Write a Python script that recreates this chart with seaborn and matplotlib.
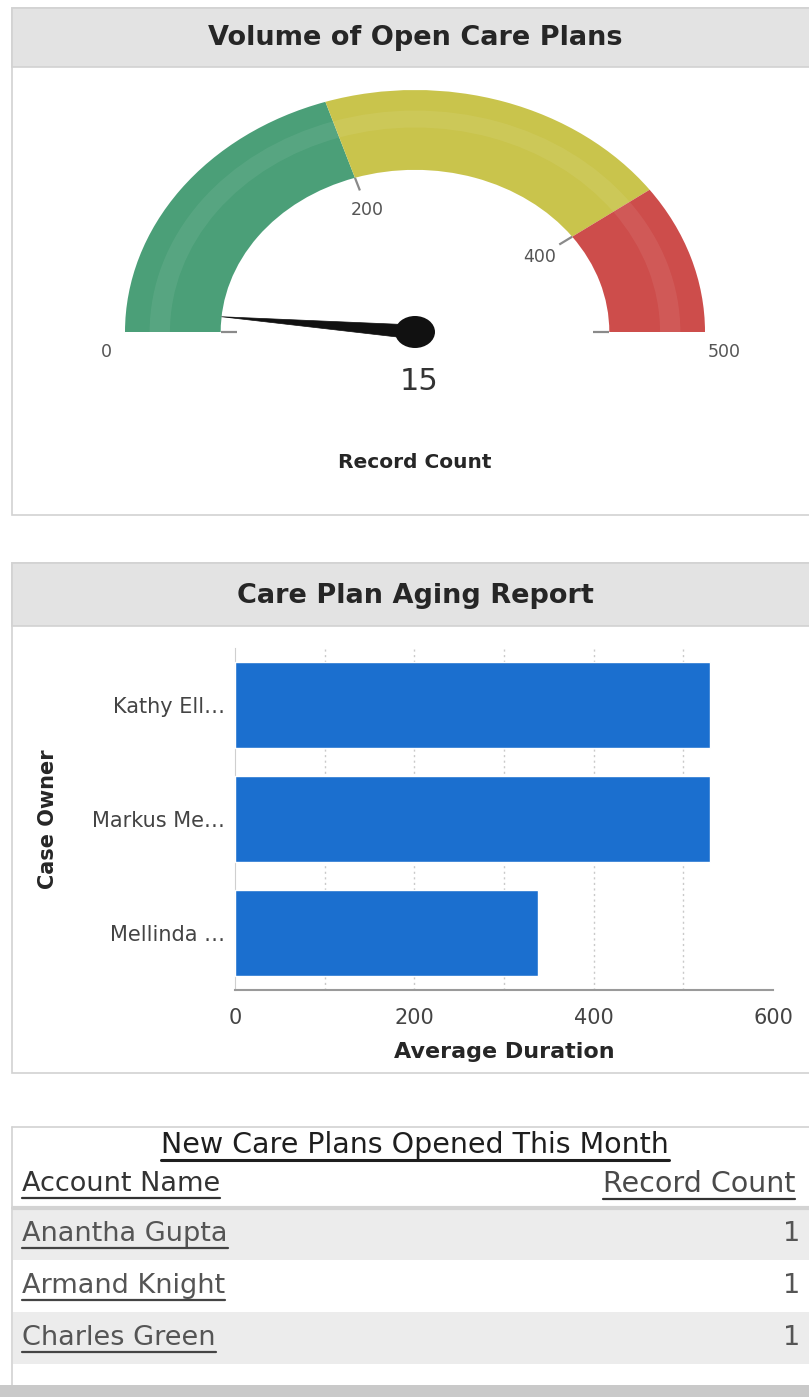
import matplotlib
matplotlib.use("Agg")
import numpy as np
import pandas as pd
import matplotlib.pyplot as plt
import seaborn as sns
from matplotlib.patches import Wedge, Ellipse, Polygon, Rectangle
from matplotlib.lines import Line2D
from matplotlib.ticker import FixedLocator

# ---- data ----
gauge_title = "Volume of Open Care Plans"
gauge_label = "Record Count"
gauge_value = 15
gauge_breaks = [0, 200, 400, 500]
gauge_colors = ["#4b9f78", "#c9c44c", "#cd4d4b"]

bar_title = "Care Plan Aging Report"
owners = ["Kathy Ell…", "Markus Me…", "Mellinda …"]
avg_duration = [530, 530, 338]
dur_ticks = [0, 200, 400, 600]
dur_grid = [100, 200, 300, 400, 500]

table_title = "New Care Plans Opened This Month"
table_cols = ["Account Name", "Record Count"]
accounts = ["Anantha Gupta", "Armand Knight", "Charles Green"]
record_counts = [1, 1, 1]

# ---- figure ----
sns.set_style("white")
plt.rcParams["font.family"] = ["DejaVu Sans"]

W, H = 809, 1397
fig = plt.figure(figsize=(W / 100, H / 100), dpi=100)


def px_axes(x0, y0, x1, y1):
    return fig.add_axes([x0 / W, 1 - y1 / H, (x1 - x0) / W, (y1 - y0) / H])


# background layer in pixel coords (y down)
bg = fig.add_axes([0, 0, 1, 1])
bg.set_xlim(0, W)
bg.set_ylim(H, 0)
bg.axis("off")

border = "#d2d2d2"
head = "#e3e3e3"
# panel 1 + panel 2 frames with grey header band
for top, bot, htop, hbot in [(8, 515, 8, 67), (563, 1073, 563, 626)]:
    bg.add_patch(Rectangle((12, top), W, bot - top, fc="white", ec=border, lw=1.2))
    bg.add_patch(Rectangle((12, htop), W, hbot - htop, fc=head, ec=border, lw=1.2))

bg.text(415, 38, gauge_title, ha="center", va="center", fontsize=19.5,
        fontweight="bold", color="#262626")
bg.text(415, 596, bar_title, ha="center", va="center", fontsize=19.5,
        fontweight="bold", color="#262626")

# ---- gauge ----
cx, cy, rx, ry = 415, 332, 290, 242
ax1 = px_axes(13, 68, W, 514)
ax1.set_xlim((13 - cx) / rx, (W - cx) / rx)
ax1.set_ylim((cy - 514) / ry, (cy - 68) / ry)
ax1.axis("off")

vmax = gauge_breaks[-1]
inner = 0.67


def ang(v):
    return 180 - v / vmax * 180


for lo, hi, col in zip(gauge_breaks[:-1], gauge_breaks[1:], gauge_colors):
    ax1.add_patch(Wedge((0, 0), 1.0, ang(hi), ang(lo), width=1 - inner, fc=col, ec="none"))
    ax1.add_patch(Wedge((0, 0), 0.915, ang(hi), ang(lo), width=0.07, fc="white",
                        alpha=0.07, ec="none"))

for v in gauge_breaks:
    a = np.deg2rad(ang(v))
    ax1.plot([inner * np.cos(a), 0.615 * np.cos(a)], [inner * np.sin(a), 0.615 * np.sin(a)],
             color="#8a8a8a", lw=1.6, solid_capstyle="butt")
    if v in (gauge_breaks[0], gauge_breaks[-1]):
        lx, ly = 1.065 * np.sign(np.cos(a)), -0.083
    else:
        lx, ly = 0.53 * np.cos(a), 0.53 * np.sin(a)
    ax1.text(lx, ly, str(v), ha="center", va="center", fontsize=12.5, color="#555555")

# needle (built in pixel space so it stays a straight taper)
a = np.deg2rad(ang(gauge_value))
d = np.array([np.cos(a), np.sin(a)])
perp = np.array([-d[1], d[0]])
tip = np.array([inner * np.cos(a) * rx, inner * np.sin(a) * ry])
b1 = perp * 7
b2 = -perp * 7
pts = np.array([tip, b1, b2]) / np.array([rx, ry])
ax1.add_patch(Polygon(pts, closed=True, fc="#111111", ec="#111111", lw=0.5))
ax1.add_patch(Ellipse((0, 0), 2 * 20 / rx, 2 * 16 / ry, fc="#111111", ec="none"))

ax1.text(0.015, (cy - 382) / ry, str(gauge_value), ha="center", va="center",
         fontsize=22, color="#333333")
ax1.text(0, (cy - 462) / ry, gauge_label, ha="center", va="center", fontsize=14.5,
         fontweight="bold", color="#262626")

# ---- bar chart ----
ax2 = px_axes(235, 648, 773, 990)
df = pd.DataFrame({"Case Owner": owners, "Average Duration": avg_duration})
sns.barplot(data=df, x="Average Duration", y="Case Owner", orient="h",
            color="#1b6fcf", saturation=1, width=0.76, ax=ax2, zorder=3)
ax2.set_xlim(0, 600)
ax2.set_ylim(2.5, -0.5)
ax2.set_xticks(dur_ticks)
ax2.xaxis.remove_overlapping_locs = False
ax2.xaxis.set_minor_locator(FixedLocator(dur_grid))
ax2.grid(axis="x", which="minor", color="#c9c9c9", ls=(0, (1.5, 2.5)), lw=1, zorder=0)
ax2.grid(axis="y", visible=False)
ax2.set_axisbelow(True)
for s in ["top", "right"]:
    ax2.spines[s].set_visible(False)
ax2.spines["left"].set_color("#cfcfcf")
ax2.spines["bottom"].set_color("#9a9a9a")
ax2.spines["bottom"].set_linewidth(1.5)
ax2.tick_params(axis="x", which="major", direction="inout", length=8, width=1.2,
                color="#9a9a9a", labelsize=15, labelcolor="#444444", pad=9)
ax2.tick_params(axis="x", which="minor", length=0)
ax2.tick_params(axis="y", which="major", length=0, labelsize=15, labelcolor="#444444", pad=7)
ax2.yaxis.set_minor_locator(FixedLocator([-0.5, 0.5, 1.5, 2.5]))
ax2.tick_params(axis="y", which="minor", length=4, color="#e6b89c", width=1)
ax2.set_xlabel("Average Duration", fontsize=16, fontweight="bold", color="#262626", va="center")
ax2.xaxis.set_label_coords(0.5, -(1052 - 990) / 342)
ax2.set_ylabel("Case Owner", fontsize=15, fontweight="bold", color="#262626", va="center")
ax2.yaxis.set_label_coords((48 - 235) / 538, 0.5)

# ---- table ----
bg.plot([12, W], [1127, 1127], color=border, lw=1.2)
bg.plot([12, 12], [1127, 1386], color=border, lw=1.2)
row_top, row_h = 1208, 52
for i in range(len(accounts) + 1):
    y0 = row_top + i * row_h
    fc = "#ececec" if i % 2 == 0 else "white"
    bg.add_patch(Rectangle((13, y0), W, row_h, fc=fc, ec="none", zorder=1))
bg.plot([13, W], [row_top, row_top], color="#d3d3d3", lw=3, zorder=2)
bg.add_patch(Rectangle((0, 1385), W, 12, fc="#c9c9c9", ec="none", zorder=5))

underlined = []
t = bg.text(415, 1145, table_title, ha="center", va="center", fontsize=20.5,
            color="#1e1e1e", zorder=3)
underlined.append((t, "#1e1e1e", 2.2))
t = bg.text(22, 1184, table_cols[0], ha="left", va="center", fontsize=19.5,
            color="#333333", zorder=3)
underlined.append((t, "#333333", 1.6))
t = bg.text(603, 1184, table_cols[1], ha="left", va="center", fontsize=20.5,
            color="#4a4a4a", zorder=3)
underlined.append((t, "#333333", 1.6))
for i, (name, cnt) in enumerate(zip(accounts, record_counts)):
    yc = row_top + i * row_h + row_h / 2
    t = bg.text(22, yc, name, ha="left", va="center", fontsize=19.5,
                color="#555555", zorder=3)
    underlined.append((t, "#444444", 1.6))
    bg.text(800, yc, str(cnt), ha="right", va="center", fontsize=19.5,
            color="#555555", zorder=3)

fig.canvas.draw()
for t, col, lw in underlined:
    bb = t.get_window_extent()
    y = (bb.y0 - 1) / H
    fig.add_artist(Line2D([bb.x0 / W, min(bb.x1, W) / W], [y, y],
                          transform=fig.transFigure, color=col, lw=lw))

fig.savefig("out.png", dpi=100)
